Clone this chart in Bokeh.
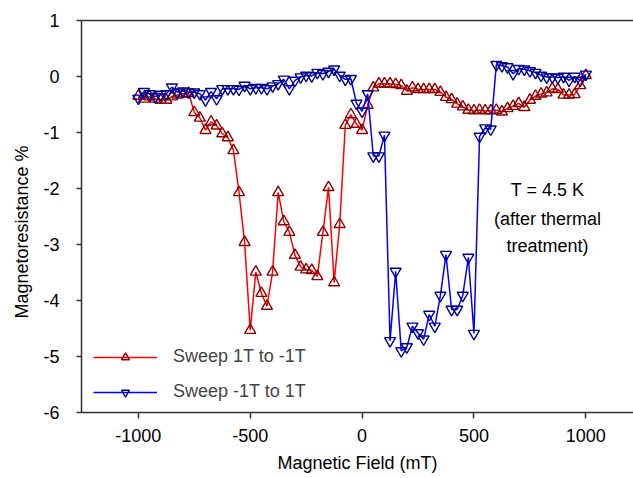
from bokeh.plotting import figure
from bokeh.models import Range1d, LinearAxis, FixedTicker, Legend, LegendItem, Label, Title
from bokeh.embed import file_html
from bokeh.resources import INLINE

# ---- data (magnetic field in mT, magnetoresistance in %) ----
field = [-1000, -975, -950, -925, -900, -875, -850, -825, -800, -775,
         -750, -725, -700, -675, -650, -625, -600, -575, -550, -525,
         -500, -475, -450, -425, -400, -375, -350, -325, -300, -275,
         -250, -225, -200, -175, -150, -125, -100, -75, -50, -25,
         0, 25, 50, 75, 100, 125, 150, 175, 200, 225,
         250, 275, 300, 325, 350, 375, 400, 425, 450, 475,
         500, 525, 550, 575, 600, 625, 650, 675, 700, 725,
         750, 775, 800, 825, 850, 875, 900, 925, 950, 975, 1000]

mr_sweep_down = [-0.35, -0.40, -0.36, -0.40, -0.42, -0.42, -0.36, -0.33, -0.31, -0.30,
                 -0.64, -0.74, -0.96, -0.81, -0.88, -1.02, -1.09, -1.32, -2.07, -2.96,
                 -4.53, -3.49, -3.87, -4.10, -3.49, -2.07, -2.59, -2.78, -3.19, -3.40,
                 -3.45, -3.46, -3.57, -2.78, -1.98, -3.68, -2.64, -0.87, -0.68, -0.85,
                 -0.96, -0.51, -0.20, -0.13, -0.13, -0.13, -0.14, -0.16, -0.26, -0.20,
                 -0.23, -0.23, -0.23, -0.23, -0.28, -0.37, -0.41, -0.49, -0.54, -0.60,
                 -0.61, -0.60, -0.61, -0.61, -0.60, -0.63, -0.57, -0.53, -0.48, -0.55,
                 -0.42, -0.35, -0.31, -0.29, -0.22, -0.23, -0.33, -0.33, -0.32, -0.16, 0.02]

mr_sweep_up = [-0.39, -0.27, -0.31, -0.36, -0.32, -0.31, -0.19, -0.28, -0.26, -0.28,
               -0.28, -0.31, -0.42, -0.27, -0.40, -0.22, -0.22, -0.22, -0.23, -0.16,
               -0.22, -0.20, -0.20, -0.22, -0.17, -0.13, -0.05, -0.22, -0.07, -0.01,
               0.02, 0.01, 0.07, 0.05, 0.09, 0.13, 0.02, -0.05, -0.04, -0.48,
               -0.62, -0.31, -1.42, -1.42, -1.05, -4.72, -3.48, -4.90, -4.83, -4.46,
               -4.58, -4.69, -4.25, -4.46, -3.91, -3.18, -4.16, -4.16, -3.91, -3.23,
               -4.59, -1.07, -0.92, -0.94, 0.21, 0.19, 0.17, 0.05, 0.14, 0.13,
               0.10, 0.07, 0.02, -0.01, -0.01, -0.02, 0.00, -0.07, 0.00, -0.07, 0.04]

x_ticks = [-1000, -500, 0, 500, 1000]
x_tick_labels = ["-1000", "-500", "0", "500", "1000"]
y_ticks = [-6, -5, -4, -3, -2, -1, 0, 1]
y_tick_labels = ["-6", "-5", "-4", "-3", "-2", "-1", "0", "1"]
series_labels = ["Sweep 1T to -1T", "Sweep -1T to 1T"]
note_lines = ["T = 4.5 K", "(after thermal", "treatment)"]

FONT = "Liberation Sans"
AXIS_COLOR = "#333333"

p = figure(width=633, height=478, output_backend="svg", toolbar_location=None,
           x_range=Range1d(-1254, 1213), y_range=Range1d(-6, 1),
           min_border_left=80, min_border_right=0, min_border_top=20,
           min_border_bottom=66)
p.grid.visible = False
p.outline_line_color = None
p.background_fill_color = "white"

for ax in (p.xaxis[0], p.yaxis[0]):
    ax.axis_line_color = AXIS_COLOR
    ax.axis_line_width = 1.5
    ax.major_tick_line_color = AXIS_COLOR
    ax.major_tick_line_width = 1.5
    ax.major_tick_in = 0
    ax.minor_tick_line_color = None
    ax.major_label_text_font = FONT
    ax.major_label_text_font_size = "18px"
    ax.major_label_text_color = "black"
    ax.axis_label_text_font = FONT
    ax.axis_label_text_font_size = "18px"
    ax.axis_label_text_font_style = "normal"
    ax.axis_label_text_color = "black"

p.xaxis.ticker = FixedTicker(ticks=x_ticks)
p.xaxis.major_label_overrides = dict(zip(x_ticks, x_tick_labels))
p.xaxis.major_tick_out = 6
p.xaxis.major_label_standoff = 10
p.xaxis.axis_label = "Magnetic Field (mT)"
p.xaxis.axis_label_standoff = 8

p.yaxis.ticker = FixedTicker(ticks=y_ticks)
p.yaxis.major_label_overrides = dict(zip(y_ticks, y_tick_labels))
p.yaxis.major_tick_out = 5
p.yaxis.major_label_standoff = 17

# y-axis title, placed a little below the centre as in the reference
p.add_layout(Title(text="Magnetoresistance %", align="left", offset=94,
                   text_font=FONT, text_font_size="18px", text_font_style="normal",
                   text_color="black", standoff=18), "left")

top_axis = LinearAxis(ticker=FixedTicker(ticks=[]), major_tick_out=0, major_tick_in=0,
                      major_label_standoff=0, major_label_text_font_size="0px",
                      minor_tick_line_color=None, axis_line_color=AXIS_COLOR,
                      axis_line_width=1.5)
p.add_layout(top_axis, "above")

r_line = p.line(field, mr_sweep_down, line_color="#ff0000", line_width=1.5)
r_mark = p.scatter(field, mr_sweep_down, marker="triangle", size=11,
                   line_color="#8b0000", fill_color=None, line_width=1.4)
b_line = p.line(field, mr_sweep_up, line_color="#0000ff", line_width=1.5)
b_mark = p.scatter(field, mr_sweep_up, marker="inverted_triangle", size=11,
                   line_color="#00008b", fill_color=None, line_width=1.4)

legend = Legend(items=[LegendItem(label=series_labels[0], renderers=[r_line, r_mark]),
                       LegendItem(label=series_labels[1], renderers=[b_line, b_mark])],
                location=(12, 10), padding=0, margin=0, spacing=14,
                glyph_width=64, glyph_height=20, label_height=20,
                label_standoff=16, label_text_font=FONT, label_text_font_size="18px",
                border_line_color=None, background_fill_alpha=0)
p.add_layout(legend)

for txt, yy in zip(note_lines, [-2.02, -2.54, -3.03]):
    p.add_layout(Label(x=829, y=yy, text=txt, text_align="center",
                       text_baseline="middle", text_font=FONT,
                       text_font_size="18px", text_color="black"))

open("out.html", "w").write(file_html(p, INLINE))
